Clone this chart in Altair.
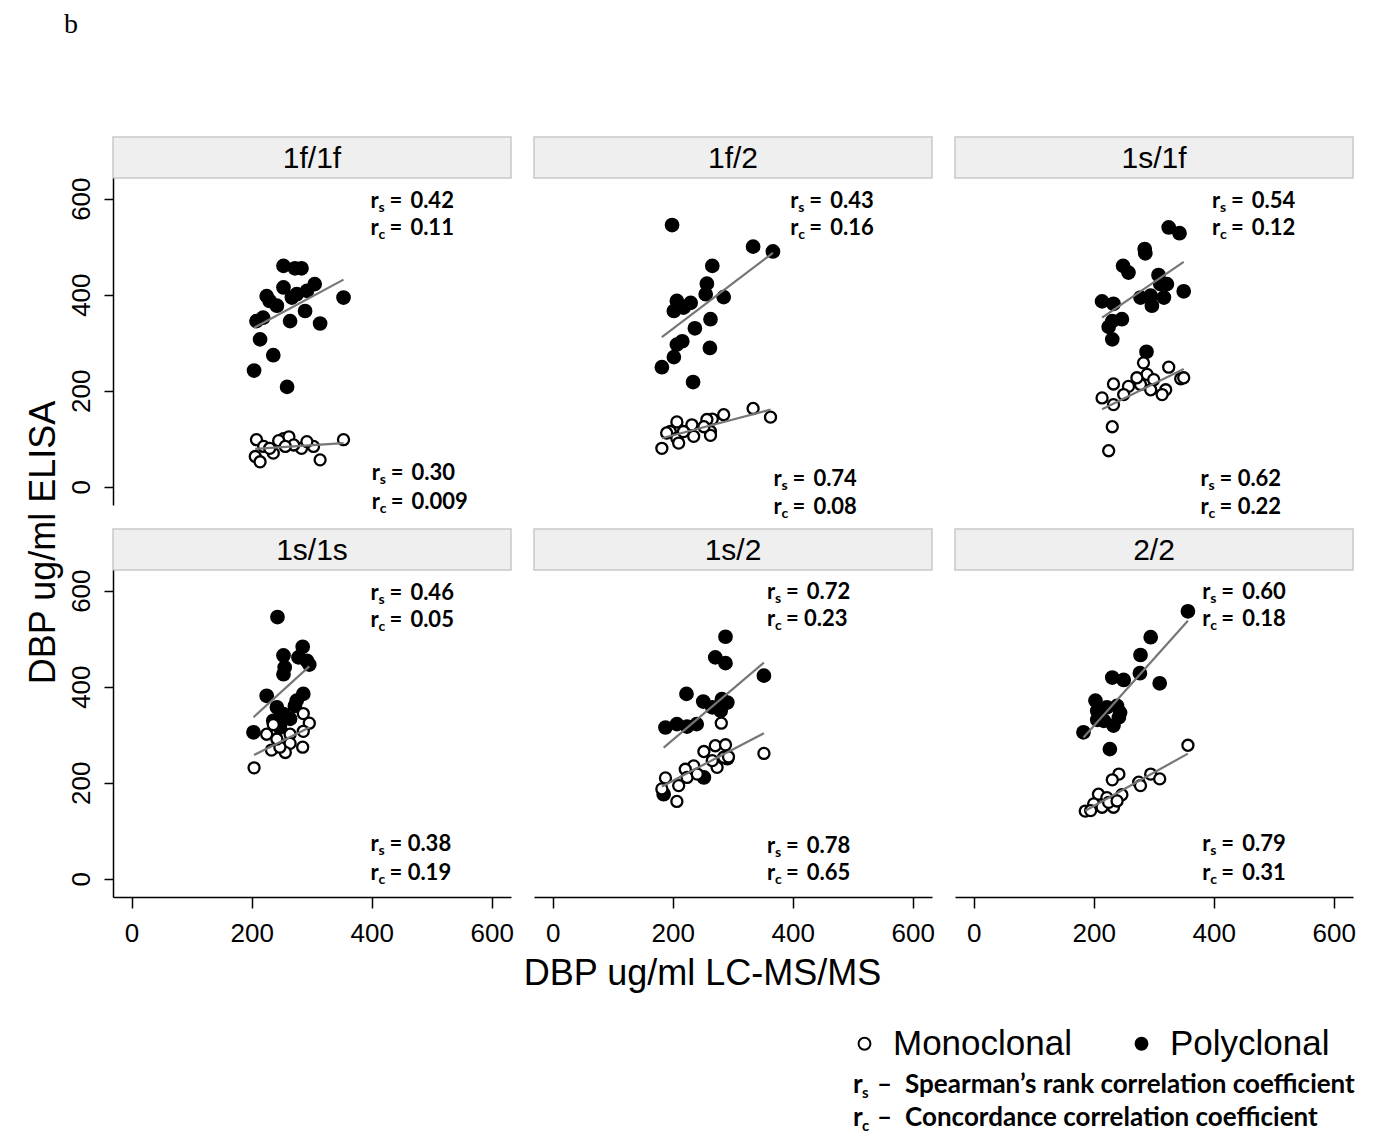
import altair as alt
import pandas as pd

PANELS = ["1f/1f", "1f/2", "1s/1f", "1s/1s", "1s/2", "2/2"]
TYPES = ["Monoclonal", "Polyclonal"]
TICKS = [0, 200, 400, 600]

# ---- data: x = DBP LC-MS/MS (ug/ml), y = DBP ELISA (ug/ml) ----
p1_poly_x = [253, 272, 283, 225, 253, 267, 292, 305, 242, 353, 289, 264, 208, 219, 314, 214, 236, 204, 259, 275, 230]
p1_poly_y = [460, 455, 455, 397, 415, 394, 408, 422, 377, 394, 366, 345, 345, 352, 340, 307, 274, 242, 208, 401, 387]
p1_mono_x = [208, 353, 253, 262, 245, 303, 314, 206, 214, 236, 283, 270, 256, 220, 292, 230]
p1_mono_y = [98, 98, 100, 104, 96, 84, 56, 63, 52, 70, 80, 87, 84, 84, 94, 80]

p2_poly_x = [199, 334, 367, 266, 257, 255, 285, 207, 230, 202, 218, 263, 237, 216, 207, 262, 202, 182, 234]
p2_poly_y = [545, 500, 490, 460, 423, 401, 395, 387, 383, 366, 373, 349, 330, 303, 296, 289, 270, 249, 218]
p2_mono_x = [334, 363, 285, 266, 257, 232, 207, 196, 207, 235, 263, 263, 182, 190, 218, 252, 210]
p2_mono_y = [163, 145, 150, 141, 140, 129, 135, 115, 101, 105, 115, 107, 80, 112, 115, 125, 91]

p3_poly_x = [325, 343, 285, 286, 249, 258, 308, 322, 350, 317, 295, 278, 297, 214, 233, 247, 231, 225, 231, 288, 311]
p3_poly_y = [540, 528, 495, 486, 460, 446, 441, 422, 407, 394, 398, 394, 377, 386, 381, 349, 345, 333, 307, 281, 422]
p3_mono_x = [283, 325, 345, 350, 289, 300, 278, 295, 320, 314, 258, 233, 250, 214, 233, 231, 225, 272]
p3_mono_y = [258, 249, 225, 227, 234, 223, 213, 202, 202, 192, 209, 214, 192, 185, 171, 125, 75, 227]

p4_poly_x = [243, 285, 253, 278, 292, 296, 255, 253, 225, 286, 275, 242, 253, 264, 203, 236, 247, 272]
p4_poly_y = [545, 483, 465, 461, 454, 446, 440, 426, 381, 385, 371, 357, 343, 333, 305, 329, 315, 360]
p4_mono_x = [286, 296, 286, 236, 225, 264, 258, 264, 233, 256, 285, 204, 247, 242]
p4_mono_y = [344, 324, 307, 321, 301, 301, 279, 282, 268, 263, 274, 231, 274, 291]

p5_poly_x = [288, 271, 288, 352, 223, 251, 282, 291, 266, 280, 188, 207, 224, 240, 252, 291, 185]
p5_poly_y = [504, 461, 449, 423, 385, 369, 374, 367, 357, 350, 315, 322, 317, 322, 211, 251, 176]
p5_mono_x = [281, 271, 288, 252, 352, 285, 293, 274, 235, 221, 224, 188, 182, 210, 207, 266, 241]
p5_mono_y = [324, 277, 279, 265, 261, 253, 254, 232, 235, 228, 211, 210, 187, 194, 161, 246, 218]

p6_poly_x = [357, 295, 278, 277, 231, 250, 310, 203, 206, 222, 239, 242, 233, 206, 183, 227, 244, 217]
p6_poly_y = [557, 503, 466, 428, 419, 414, 407, 371, 350, 357, 360, 336, 319, 331, 305, 270, 346, 329]
p6_mono_x = [357, 242, 231, 295, 310, 275, 278, 208, 222, 247, 186, 200, 214, 233, 225, 239, 195]
p6_mono_y = [278, 218, 206, 218, 208, 201, 194, 176, 169, 175, 141, 156, 149, 149, 159, 162, 142]

# ---- correlation annotations (r_s / r_c) ----
ANN_PANEL = [p for p in PANELS for _ in range(4)]
ANN_SUB = ["s", "c", "s", "c"] * 6
ANN_TEXT = [
    "=\u2009 0.42", "=\u2009 0.11", "=\u2009 0.30", "=\u2009 0.009",
    "=\u2009 0.43", "=\u2009 0.16", "=\u2009 0.74", "=\u2009 0.08",
    "=\u2009 0.54", "=\u2009 0.12", "= 0.62", "= 0.22",
    "=\u2009 0.46", "=\u2009 0.05", "= 0.38", "= 0.19",
    "=\u2009 0.72", "= 0.23", "=\u2009 0.78", "=\u2009 0.65",
    "=\u2009 0.60", "=\u2009 0.18", "=\u2009 0.79", "=\u2009 0.31",
]
ANN_X = [398, 398, 400, 400,
         396, 396, 368, 368,
         397, 397, 378, 378,
         398, 398, 398, 398,
         357, 357, 357, 357,
         381, 381, 381, 381]
ANN_Y = [596, 538, 28, -31,
         596, 538, 17, -42,
         596, 538, 17, -42,
         596, 538, 72, 13,
         598, 540, 69, 11,
         598, 540, 72, 13]

FOOT_SUB = ["s", "c"]
FOOT_TEXT = ["\u2013\u2002Spearman\u2019s rank correlation coefficient",
             "\u2013\u2002Concordance correlation coefficient"]

# ---- tables ----
series = [
    (p1_poly_x, p1_poly_y, p1_mono_x, p1_mono_y),
    (p2_poly_x, p2_poly_y, p2_mono_x, p2_mono_y),
    (p3_poly_x, p3_poly_y, p3_mono_x, p3_mono_y),
    (p4_poly_x, p4_poly_y, p4_mono_x, p4_mono_y),
    (p5_poly_x, p5_poly_y, p5_mono_x, p5_mono_y),
    (p6_poly_x, p6_poly_y, p6_mono_x, p6_mono_y),
]
rows = []
for name, (px, py, mx, my) in zip(PANELS, series):
    for x, y in zip(px, py):
        rows.append({"panel": name, "type": "Polyclonal", "x": x, "y": y})
    for x, y in zip(mx, my):
        rows.append({"panel": name, "type": "Monoclonal", "x": x, "y": y})
df = pd.DataFrame(rows)
ann_df = pd.DataFrame({"panel": ANN_PANEL, "sub": ANN_SUB, "rest": ANN_TEXT,
                       "x": ANN_X, "y": ANN_Y})
strip_df = pd.DataFrame({"panel": PANELS})
foot_df = pd.DataFrame({"sub": FOOT_SUB, "rest": FOOT_TEXT})

FONT = "Liberation Sans"
BOLD = "Lato"
W, H, SH = 398, 327, 41
XS = alt.Scale(domain=[-31, 632], nice=False, zero=False)
YS = alt.Scale(domain=[-38, 643], nice=False, zero=False)

LEGEND = alt.Legend(title=None, orient="none", legendX=734, legendY=889,
                    direction="horizontal", labelFont=FONT, labelFontSize=35,
                    labelColor="black", labelLimit=0, symbolType="circle", symbolSize=140,
                    symbolStrokeColor="black", symbolStrokeWidth=2,
                    labelOffset=11, columnPadding=52, padding=0)
FILL = alt.Fill("type:N", scale=alt.Scale(domain=TYPES, range=["white", "black"]),
                legend=LEGEND)


def strip_chart(name, gap):
    base = alt.Chart(strip_df).transform_filter(alt.datum.panel == name)
    rect = base.mark_rect(fill="#efefef", stroke="#c9c9c9", strokeWidth=1.5).encode(
        x=alt.value(0), x2=alt.value(W), y=alt.value(gap), y2=alt.value(gap + SH))
    txt = base.mark_text(font=FONT, fontSize=30, color="black", baseline="middle").encode(
        x=alt.value(W / 2), y=alt.value(gap + SH / 2 + 1), text="panel:N")
    return alt.layer(rect, txt).properties(width=W, height=gap + SH)


def plot_chart(i):
    name = PANELS[i]
    row, col = divmod(i, 3)
    if col == 0:
        ykw = dict(values=TICKS, labelAngle=270, labelAlign="center",
                   labelBaseline="bottom", tickSize=9, labelPadding=10, title=None)
        if row == 1:
            ykw.update(title="DBP ug/ml ELISA", titleX=-70, titleY=-28, titleAngle=270,
                       titleAlign="center", titleBaseline="middle")
        yaxis = alt.Axis(**ykw)
    else:
        yaxis = None
    if row == 1:
        xkw = dict(values=TICKS, tickSize=11, labelPadding=12, labelFlush=False,
                   labelAngle=0, title=None)
        if col == 1:
            xkw.update(title="DBP ug/ml LC-MS/MS", titleX=168, titleY=76,
                       titleAlign="center", titleBaseline="middle")
        xaxis = alt.Axis(**xkw)
    else:
        xaxis = None

    xe = alt.X("x:Q", scale=XS, axis=xaxis)
    ye = alt.Y("y:Q", scale=YS, axis=yaxis)

    base = alt.Chart(df).transform_filter(alt.datum.panel == name)
    poly = base.transform_filter(alt.datum.type == "Polyclonal").mark_circle(
        size=175, stroke="black", strokeWidth=1.5, opacity=1).encode(x=xe, y=ye, fill=FILL)
    mono = base.transform_filter(alt.datum.type == "Monoclonal").mark_circle(
        size=122, stroke="black", strokeWidth=2.3, opacity=1).encode(x=xe, y=ye, fill=FILL)
    lines = base.transform_regression("x", "y", groupby=["type"]).mark_line(
        color="#767676", strokeWidth=2.2).encode(x=xe, y=ye, detail="type:N")

    abase = alt.Chart(ann_df).transform_filter(alt.datum.panel == name)
    tkw = dict(align="left", baseline="middle", font=BOLD, fontWeight="bold", color="black")
    r_t = abase.mark_text(text="r", fontSize=22, **tkw).encode(x=xe, y=ye)
    s_t = abase.mark_text(fontSize=14, dx=8, dy=7, **tkw).encode(x=xe, y=ye, text="sub:N")
    v_t = abase.mark_text(fontSize=22, dx=19, **tkw).encode(x=xe, y=ye, text="rest:N")
    layers = [poly, mono, lines, r_t, s_t, v_t]

    if i == 5:
        fkw = dict(align="left", baseline="middle", font=BOLD, fontWeight="bold", color="black")
        for k, yy in enumerate([515, 548]):
            fb = alt.Chart(foot_df).transform_filter(alt.datum.sub == FOOT_SUB[k])
            layers.append(fb.mark_text(text="r", fontSize=26, **fkw).encode(
                x=alt.value(-102), y=alt.value(yy)))
            layers.append(fb.mark_text(fontSize=15, dx=9, dy=8, **fkw).encode(
                x=alt.value(-102), y=alt.value(yy), text="sub:N"))
            layers.append(fb.mark_text(fontSize=26, dx=24, **fkw).encode(
                x=alt.value(-102), y=alt.value(yy), text="rest:N"))

    return alt.layer(*layers).properties(width=W, height=H)


cells = ([strip_chart(PANELS[i], 0) for i in range(3)]
         + [plot_chart(i) for i in range(3)]
         + [strip_chart(PANELS[i], 24) for i in range(3, 6)]
         + [plot_chart(i) for i in range(3, 6)])

chart = alt.concat(
    *cells, columns=3, spacing=alt.RowColnumber(row=0, column=23), bounds="flush"
).properties(
    title=alt.TitleParams("b", anchor="start", frame="group", font="Liberation Serif",
                          fontSize=28, fontWeight="normal", color="black",
                          dx=-49, offset=75, baseline="alphabetic"),
    padding={"left": 16, "top": 3, "right": 10, "bottom": 10},
    background="white",
).configure_view(stroke=None).configure_axis(
    grid=False, domainColor="black", domainWidth=1.5, tickColor="black", tickWidth=1.5,
    labelFont=FONT, labelFontSize=26, labelColor="black",
    titleFont=FONT, titleFontSize=36, titleFontWeight="normal", titleColor="black",
)

chart.save("out.html", embed_options={"renderer": "svg", "actions": False})
